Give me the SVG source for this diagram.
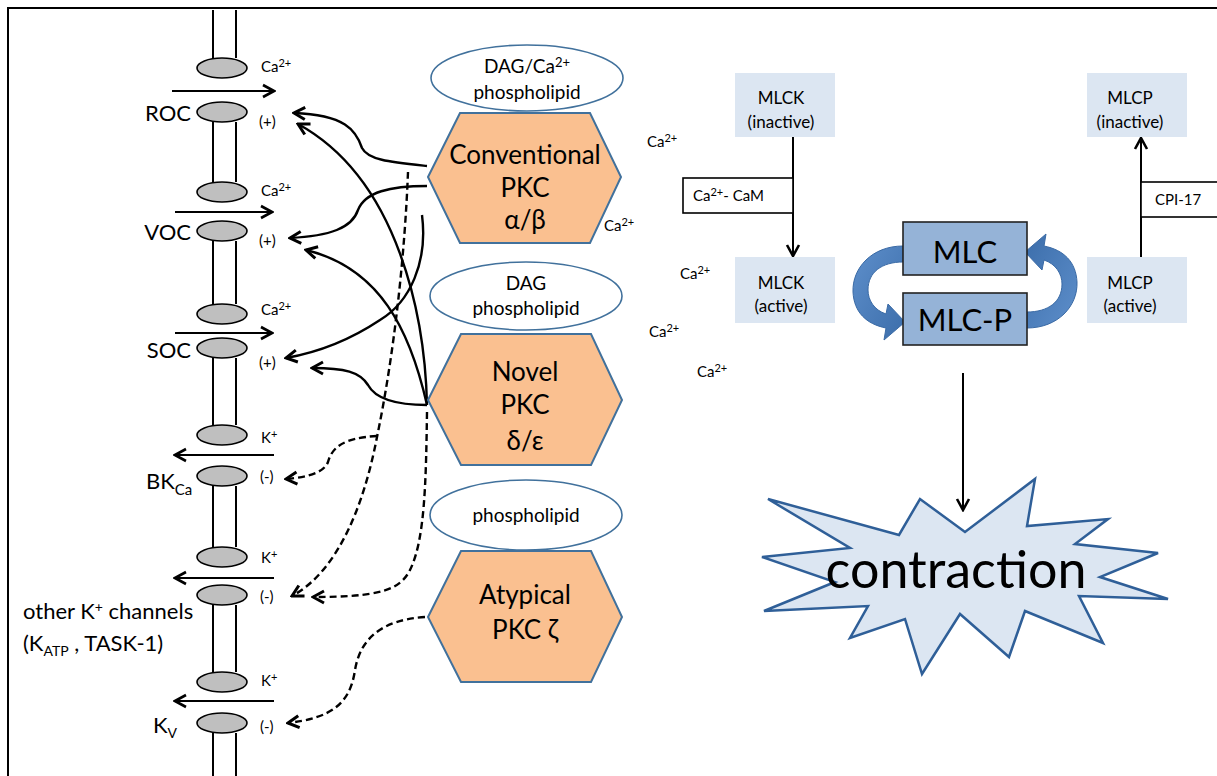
<svg xmlns="http://www.w3.org/2000/svg" width="1217" height="776" viewBox="0 0 1217 776">
<style>
text{font-family:Lato,"Liberation Sans",sans-serif;fill:#000}
.lbl{font-size:22px}
.sm{font-size:15px}
.ell{font-size:19px;text-anchor:middle}
.hex{font-size:26px;text-anchor:middle}
.box{font-size:17px;text-anchor:middle}
.mem{stroke:#000;stroke-width:2;fill:none}
.chan{fill:#BFBFBF;stroke:#000;stroke-width:1.6}
.ion{stroke:#000;stroke-width:2;fill:none}
.sol{stroke:#000;stroke-width:2.4;fill:none;marker-end:url(#ah)}
.dsh{stroke:#000;stroke-width:2.4;fill:none;stroke-dasharray:7 4;marker-end:url(#ah)}
.pkc{fill:#FAC090;stroke:#41719C;stroke-width:2}
.lip{fill:#fff;stroke:#41719C;stroke-width:1.6}
.lt{fill:#DCE6F2}
.mlc{fill:#95B3D7;stroke:#222;stroke-width:1.6}
</style>
<defs>
<marker id="ah" viewBox="0 0 16 16" refX="14" refY="8" markerWidth="16" markerHeight="16" markerUnits="userSpaceOnUse" orient="auto">
<path d="M3,2 L14,8 L3,14" fill="none" stroke="#000" stroke-width="3"/>
</marker>
<marker id="ih" viewBox="0 0 16 16" refX="14" refY="8" markerWidth="16" markerHeight="16" markerUnits="userSpaceOnUse" orient="auto">
<path d="M3,2 L14,8 L3,14" fill="none" stroke="#000" stroke-width="2.6"/>
</marker>
<linearGradient id="bg" x1="0" y1="0" x2="1" y2="1">
<stop offset="0" stop-color="#5E8FCB"/><stop offset="1" stop-color="#3B6DAA"/>
</linearGradient>
</defs>
<rect x="0" y="0" width="1217" height="776" fill="#fff"/>
<rect x="8" y="8" width="1240" height="800" fill="none" stroke="#000" stroke-width="2"/>

<g id="membrane">
<path class="mem" d="M213,10V58M236,10V58M213,122V182M236,122V182M213,241V304M236,241V304M213,358V425M236,358V425M213,486V547M236,486V547M213,605V672M236,605V672M213,733V776M236,733V776"/>
</g>

<g id="roc">
<ellipse class="chan" cx="222" cy="68" rx="25" ry="10"/>
<ellipse class="chan" cx="222" cy="112" rx="25" ry="10"/>
<line class="ion" x1="172" y1="91" x2="274" y2="91" marker-end="url(#ih)"/>
<text class="lbl" x="191" y="121" text-anchor="end">ROC</text>
<text class="sm" x="261" y="72">Ca<tspan dy="-5" font-size="11">2+</tspan></text>
<text class="sm" x="259" y="127">(+)</text>
</g>
<g id="voc">
<ellipse class="chan" cx="222" cy="192" rx="25" ry="10"/>
<ellipse class="chan" cx="222" cy="231" rx="25" ry="10"/>
<line class="ion" x1="175" y1="212" x2="272" y2="212" marker-end="url(#ih)"/>
<text class="lbl" x="191" y="240" text-anchor="end">VOC</text>
<text class="sm" x="261" y="196">Ca<tspan dy="-5" font-size="11">2+</tspan></text>
<text class="sm" x="259" y="246">(+)</text>
</g>
<g id="soc">
<ellipse class="chan" cx="222" cy="314" rx="25" ry="10"/>
<ellipse class="chan" cx="222" cy="348" rx="25" ry="10"/>
<line class="ion" x1="175" y1="333" x2="272" y2="333" marker-end="url(#ih)"/>
<text class="lbl" x="191" y="358" text-anchor="end">SOC</text>
<text class="sm" x="261" y="315">Ca<tspan dy="-5" font-size="11">2+</tspan></text>
<text class="sm" x="259" y="368">(+)</text>
</g>
<g id="bkca">
<ellipse class="chan" cx="222" cy="435" rx="25" ry="10"/>
<ellipse class="chan" cx="222" cy="476" rx="25" ry="10"/>
<line class="ion" x1="274" y1="455" x2="175" y2="455" marker-end="url(#ih)"/>
<text class="lbl" x="146" y="489">BK<tspan dy="6" font-size="15">Ca</tspan></text>
<text class="sm" x="261" y="443">K<tspan dy="-5" font-size="11">+</tspan></text>
<text class="sm" x="260" y="482">(-)</text>
</g>
<g id="otherk">
<ellipse class="chan" cx="222" cy="557" rx="25" ry="10"/>
<ellipse class="chan" cx="222" cy="595" rx="25" ry="10"/>
<line class="ion" x1="274" y1="578" x2="175" y2="578" marker-end="url(#ih)"/>
<text class="lbl" x="23" y="619">other K<tspan dy="-7" font-size="14">+</tspan><tspan dy="7"> channels</tspan></text>
<text class="lbl" x="23" y="651">(K<tspan dy="5" font-size="14">ATP</tspan><tspan dy="-5"> , TASK-1)</tspan></text>
<text class="sm" x="261" y="563">K<tspan dy="-5" font-size="11">+</tspan></text>
<text class="sm" x="260" y="602">(-)</text>
</g>
<g id="kv">
<ellipse class="chan" cx="222" cy="682" rx="25" ry="10"/>
<ellipse class="chan" cx="222" cy="723" rx="25" ry="10"/>
<line class="ion" x1="274" y1="701" x2="175" y2="701" marker-end="url(#ih)"/>
<text class="lbl" x="153" y="733">K<tspan dy="5" font-size="14">V</tspan></text>
<text class="sm" x="261" y="686">K<tspan dy="-5" font-size="11">+</tspan></text>
<text class="sm" x="260" y="732">(-)</text>
</g>

<g id="connectors">
<path class="sol" d="M427,166 C390,162 368,160 362,148 C356,130 345,115 294,113"/>
<path class="sol" d="M427,186 C390,186 365,192 358,210 C352,228 330,236 290,238"/>
<path class="sol" d="M422,215 C428,262 410,302 380,320 C350,340 320,352 286,358"/>
<path class="sol" d="M427,405 C425,320 400,180 298,124"/>
<path class="sol" d="M427,405 C410,330 380,268 306,250"/>
<path class="sol" d="M427,405 C395,405 375,398 368,385 C360,372 345,368 312,368"/>
<path class="dsh" d="M408,172 C405,250 395,350 377,437 C365,500 340,570 292,596"/>
<path class="dsh" d="M377,436 C342,438 332,448 328,462 C324,472 310,477 286,479"/>
<path class="dsh" d="M427,412 C426,480 425,540 410,570 C400,590 380,597 313,597"/>
<path class="dsh" d="M425,617 C380,620 360,640 355,670 C350,705 330,718 288,723"/>
<line x1="793" y1="137" x2="793" y2="256" stroke="#000" stroke-width="2" marker-end="url(#ih)"/>
<line x1="1141" y1="257" x2="1141" y2="138" stroke="#000" stroke-width="2" marker-end="url(#ih)"/>
<line x1="963" y1="373" x2="963" y2="510" stroke="#000" stroke-width="2" marker-end="url(#ih)"/>
<path fill="url(#bg)" stroke="#3A6AA5" stroke-width="1" d="M903,246 C872,246 852,268 853,292 C854,312 866,324 886,328 L884,340 L905,322 L888,304 L886,314 C874,310 868,300 868,290 C868,272 882,262 903,262 Z"/>
<path fill="url(#bg)" stroke="#3A6AA5" stroke-width="1" transform="rotate(180 965 287)" d="M903,246 C872,246 852,268 853,292 C854,312 866,324 886,328 L884,340 L905,322 L888,304 L886,314 C874,310 868,300 868,290 C868,272 882,262 903,262 Z"/>
</g>

<g id="lipid1">
<ellipse class="lip" cx="527" cy="78" rx="96" ry="33"/>
<text class="ell" x="527" y="73">DAG/Ca<tspan dy="-6" font-size="13">2+</tspan></text>
<text class="ell" x="527" y="99">phospholipid</text>
</g>
<g id="conventional">
<polygon class="pkc" points="428,177 460,113 590,113 621,177 590,243 460,243"/>
<text class="hex" x="525" y="164">Conventional</text>
<text class="hex" x="525" y="197">PKC</text>
<text class="hex" x="525" y="229">α/β</text>
</g>
<g id="lipid2">
<ellipse class="lip" cx="526" cy="296" rx="96" ry="34"/>
<text class="ell" x="526" y="290">DAG</text>
<text class="ell" x="526" y="315">phospholipid</text>
</g>
<g id="novel">
<polygon class="pkc" points="428,400 461,334 591,334 622,400 591,465 461,465"/>
<text class="hex" x="525" y="381">Novel</text>
<text class="hex" x="525" y="414">PKC</text>
<text class="hex" x="525" y="450">δ/ε</text>
</g>
<g id="lipid3">
<ellipse class="lip" cx="526" cy="515" rx="96" ry="35"/>
<text class="ell" x="526" y="522">phospholipid</text>
</g>
<g id="atypical">
<polygon class="pkc" points="428,617 461,551 591,551 622,617 591,682 461,682"/>
<text class="hex" x="525" y="604">Atypical</text>
<text class="hex" x="525" y="639">PKC ζ</text>
</g>

<g id="ca-labels">
<text class="sm" x="647" y="147">Ca<tspan dy="-5" font-size="11">2+</tspan></text>
<text class="sm" x="604" y="231">Ca<tspan dy="-5" font-size="11">2+</tspan></text>
<text class="sm" x="680" y="279">Ca<tspan dy="-5" font-size="11">2+</tspan></text>
<text class="sm" x="649" y="337">Ca<tspan dy="-5" font-size="11">2+</tspan></text>
<text class="sm" x="697" y="377">Ca<tspan dy="-5" font-size="11">2+</tspan></text>
</g>

<g id="mlck-inactive">
<rect class="lt" x="735" y="73" width="100" height="64"/>
<text class="box" x="781" y="104">MLCK</text>
<text class="box" x="781" y="128">(inactive)</text>
</g>
<g id="cacam">
<rect x="683" y="178" width="110" height="35" fill="#fff" stroke="#000" stroke-width="1.6"/>
<text class="sm" x="693" y="201">Ca<tspan dy="-5" font-size="11">2+</tspan><tspan dy="5">- CaM</tspan></text>
</g>
<g id="mlck-active">
<rect class="lt" x="735" y="257" width="100" height="66"/>
<text class="box" x="781" y="289">MLCK</text>
<text class="box" x="781" y="312">(active)</text>
</g>
<g id="mlc">
<rect class="mlc" x="903" y="222" width="124" height="53"/>
<text x="965" y="263" font-size="31" text-anchor="middle">MLC</text>
</g>
<g id="mlcp">
<rect class="mlc" x="903" y="293" width="124" height="52"/>
<text x="965" y="331" font-size="31" text-anchor="middle">MLC-P</text>
</g>
<g id="mlcp-inactive">
<rect class="lt" x="1087" y="73" width="100" height="64"/>
<text class="box" x="1130" y="104">MLCP</text>
<text class="box" x="1130" y="128">(inactive)</text>
</g>
<g id="mlcp-active">
<rect class="lt" x="1087" y="257" width="100" height="66"/>
<text class="box" x="1130" y="289">MLCP</text>
<text class="box" x="1130" y="312">(active)</text>
</g>
<g id="cpi17">
<rect x="1141" y="182" width="90" height="35" fill="#fff" stroke="#000" stroke-width="1.6"/>
<text class="sm" x="1155" y="205">CPI-17</text>
</g>
<g id="contraction">
<polygon points="768,499 899,535 920,499 965,532 1035,479 1027,526 1108,519 1075,544 1158,553 1100,577 1168,599 1079,596 1103,643 1025,611 1009,657 960,614 922,674 905,619 850,638 868,606 764,611 835,582 762,557 850,548" fill="#DCE6F2" stroke="#2F5F98" stroke-width="2.5" stroke-linejoin="miter"/>
<text x="956" y="588" font-size="52" text-anchor="middle">contraction</text>
</g>
</svg>
